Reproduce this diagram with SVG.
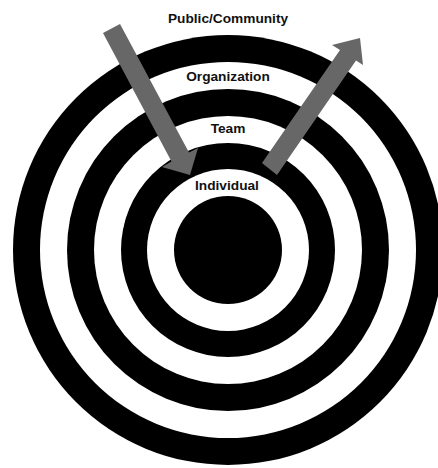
<svg xmlns="http://www.w3.org/2000/svg" width="438" height="468" viewBox="0 0 438 468">
  <style>
    .ink { fill: #000000; }
    .gap { fill: #ffffff; }
    .label { font-family: "Liberation Sans", Arial, Helvetica, sans-serif; font-weight: bold; font-size: 13.7px; fill: #111111; text-anchor: middle; }
    .arrow { fill: #676767; }
  </style>
  <rect width="438" height="468" fill="#ffffff"/>

  <!-- Concentric levels, outermost first, centred on (228, 250) -->
  <g id="ring-public-community">
    <circle class="ink" cx="228" cy="250" r="215"/>
    <circle class="gap" cx="228" cy="250" r="188"/>
  </g>
  <g id="ring-organization">
    <circle class="ink" cx="228" cy="250" r="161"/>
    <circle class="gap" cx="228" cy="250" r="134"/>
  </g>
  <g id="ring-team">
    <circle class="ink" cx="228" cy="250" r="107"/>
    <circle class="gap" cx="228" cy="250" r="81"/>
  </g>
  <g id="core-individual">
    <circle class="ink" cx="228" cy="250" r="54"/>
  </g>

  <!-- Level labels -->
  <g id="label-public-community"><text class="label" x="228" y="22.5">Public/Community</text></g>
  <g id="label-organization"><text class="label" x="228" y="80.5">Organization</text></g>
  <g id="label-team"><text class="label" x="228" y="133">Team</text></g>
  <g id="label-individual"><text class="label" x="227" y="190">Individual</text></g>

  <!-- Inward and outward arrows -->
  <g id="connectors">
    <polygon class="arrow" points="103,33 120,24 189,152.5 198,148 190,175 162,167 171.5,161.5"/>
    <polygon class="arrow" points="262,163 340,50 332,45 360,38 363,65 356,60.5 277,175"/>
  </g>
</svg>
